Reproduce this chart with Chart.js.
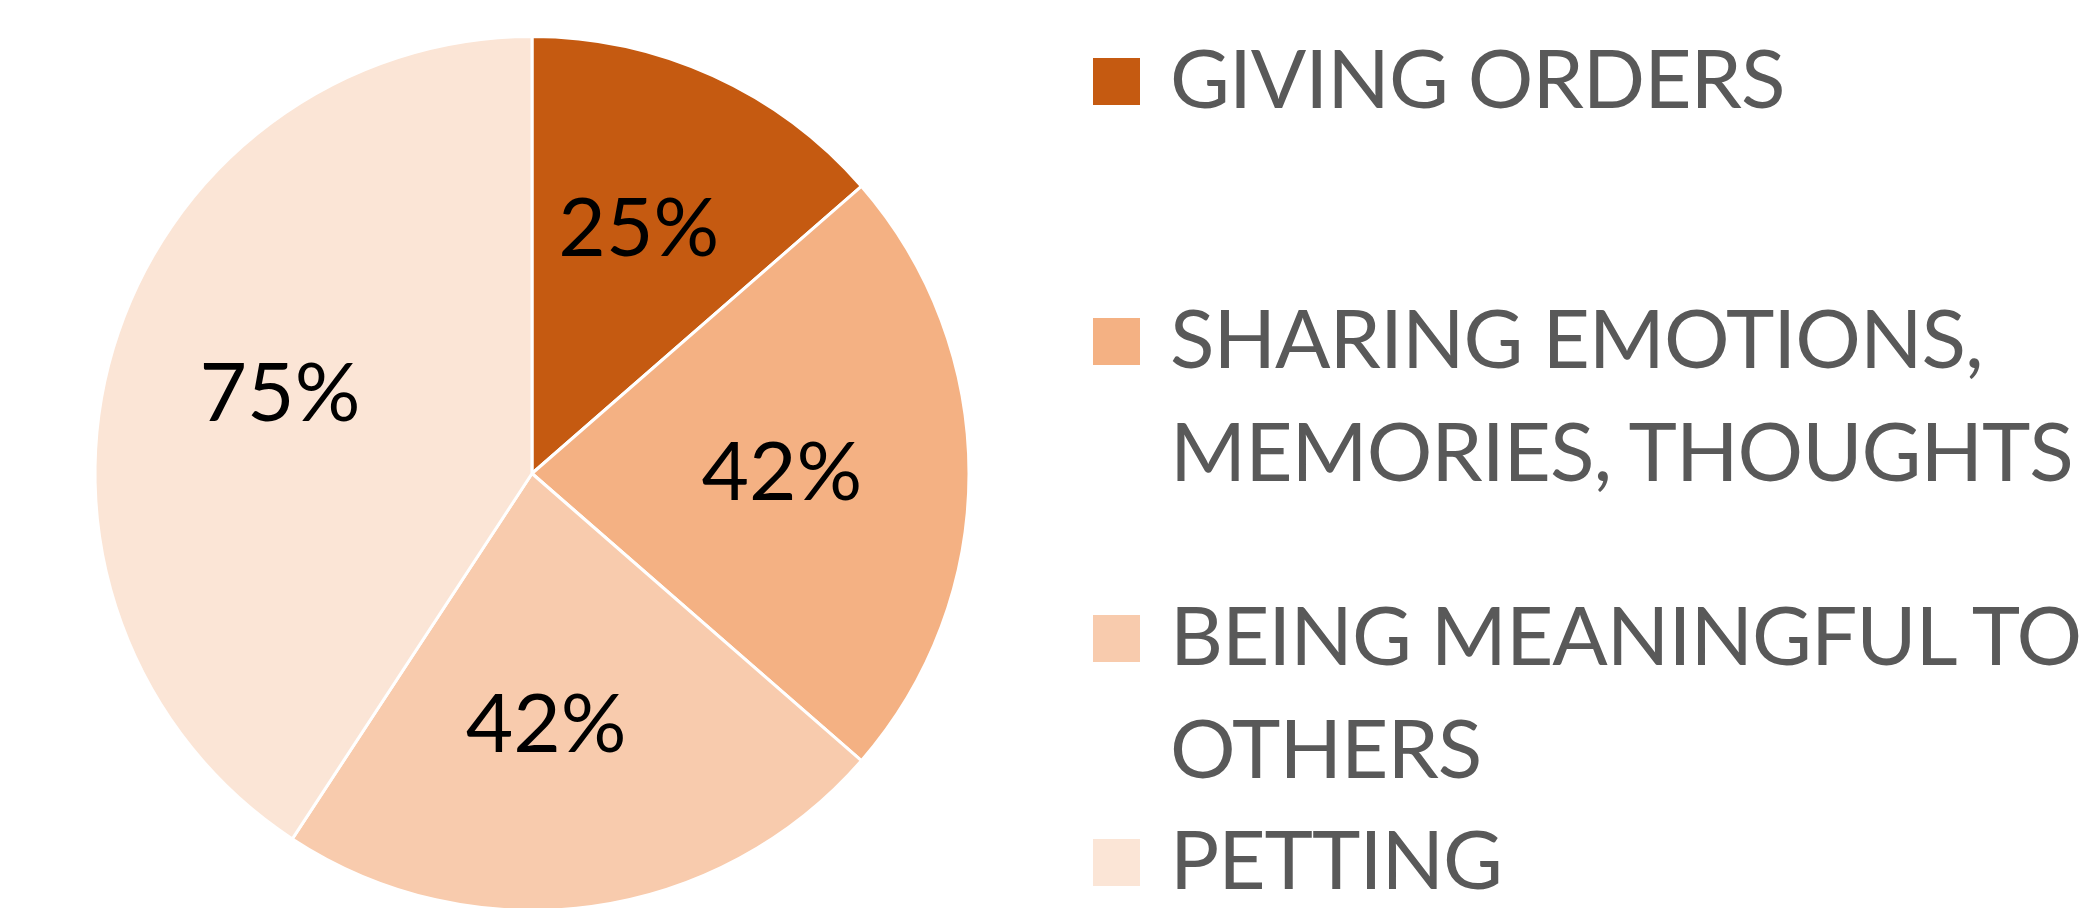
<!DOCTYPE html>
<html>
<head>
<meta charset="utf-8">
<script src="https://cdn.jsdelivr.net/npm/chart.js@4.4.0/dist/chart.umd.min.js"></script>
<style>
  html, body { margin: 0; padding: 0; width: 2087px; height: 908px; overflow: hidden; background: #ffffff; }
  #wrap { position: absolute; left: 0; top: 0; width: 1064px; height: 950px; }
  #legend { position: absolute; left: 0; top: 0; width: 2087px; height: 908px; pointer-events: none; }
  .item { position: absolute; left: 1093px; white-space: nowrap; }
  .box { position: absolute; left: 0; width: 47px; height: 47px; }
  .txt { position: absolute; left: 77px; font-family: Lato, "Open Sans", sans-serif; font-size: 82px; line-height: 113px; letter-spacing: -1px; color: #595959; }
</style>
</head>
<body>
<div id="wrap"><canvas id="c"></canvas></div>
<div id="legend"></div>
<script>
const categories = ['GIVING ORDERS', ['SHARING EMOTIONS,', 'MEMORIES, THOUGHTS'], ['BEING MEANINGFUL TO', 'OTHERS'], 'PETTING'];
const values = [25, 42, 42, 75];
const valueLabels = ['25%', '42%', '42%', '75%'];
const sliceColors = ['#C55A11', '#F4B183', '#F8CBAD', '#FBE5D6'];

// layout: legend row tops and small label nudges (px)
const legendTops = [20, 280, 577, 801];
const labelNudges = [[0, -9], [-8, 0], [-21, -3], [-5, -5]];

const labelPlugin = {
  id: 'sliceLabels',
  afterDatasetsDraw(chart) {
    const ctx = chart.ctx;
    const meta = chart.getDatasetMeta(0);
    ctx.save();
    ctx.fillStyle = '#000000';
    ctx.font = '82px Lato, "Open Sans", sans-serif';
    ctx.textAlign = 'center';
    ctx.textBaseline = 'middle';
    meta.data.forEach((arc, i) => {
      const p = arc.getProps(['x', 'y', 'startAngle', 'endAngle', 'outerRadius'], true);
      const mid = (p.startAngle + p.endAngle) / 2;
      const r = p.outerRadius * 0.59;
      ctx.fillText(valueLabels[i],
        p.x + Math.cos(mid) * r + labelNudges[i][0],
        p.y + Math.sin(mid) * r + labelNudges[i][1]);
    });
    ctx.restore();
  }
};

const chart = new Chart(document.getElementById('c'), {
  type: 'pie',
  data: {
    labels: categories,
    datasets: [{
      data: values,
      backgroundColor: sliceColors,
      borderColor: '#ffffff',
      borderWidth: 3,
      hoverOffset: 0
    }]
  },
  options: {
    responsive: true,
    maintainAspectRatio: false,
    animation: false,
    layout: { padding: { top: 35, bottom: 38, left: 0, right: 0 } },
    plugins: {
      legend: { display: false },
      tooltip: { enabled: false }
    }
  },
  plugins: [labelPlugin]
});

// HTML legend built from the chart's own labels and colours
const legendEl = document.getElementById('legend');
chart.data.labels.forEach((lab, i) => {
  const item = document.createElement('div');
  item.className = 'item';
  item.style.top = legendTops[i] + 'px';
  const box = document.createElement('div');
  box.className = 'box';
  box.style.top = '38px';
  box.style.background = chart.data.datasets[0].backgroundColor[i];
  const txt = document.createElement('div');
  txt.className = 'txt';
  txt.innerHTML = (Array.isArray(lab) ? lab : [lab]).join('<br>');
  item.appendChild(box);
  item.appendChild(txt);
  legendEl.appendChild(item);
});
</script>
</body>
</html>
